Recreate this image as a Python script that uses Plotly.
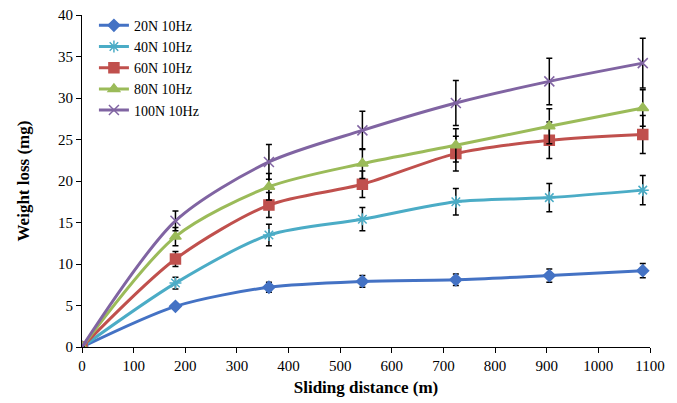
import plotly.graph_objects as go

distance = [0, 181, 362, 543, 724, 905, 1086]
series_names = ["20N 10Hz", "40N 10Hz", "60N 10Hz", "80N 10Hz", "100N 10Hz"]
loss_20N = [0, 4.9, 7.2, 7.9, 8.1, 8.6, 9.2]
loss_40N = [0, 7.7, 13.5, 15.4, 17.5, 18.0, 18.9]
loss_60N = [0, 10.6, 17.1, 19.6, 23.3, 24.9, 25.6]
loss_80N = [0, 13.3, 19.3, 22.1, 24.3, 26.6, 28.8]
loss_100N = [0, 15.2, 22.3, 26.1, 29.4, 32.0, 34.2]
err_20N = [0, 0.3, 0.6, 0.7, 0.7, 0.8, 0.85]
err_40N = [0, 0.7, 1.3, 1.4, 1.6, 1.7, 1.75]
err_60N = [0, 0.9, 1.5, 1.6, 2.1, 2.2, 2.3]
err_80N = [0, 1.1, 1.6, 1.8, 2.0, 2.1, 2.2]
err_100N = [0, 1.2, 2.1, 2.3, 2.7, 2.8, 3.0]
x_ticks = [0, 100, 200, 300, 400, 500, 600, 700, 800, 900, 1000, 1100]

values = [loss_20N, loss_40N, loss_60N, loss_80N, loss_100N]
errors = [err_20N, err_40N, err_60N, err_80N, err_100N]
colors = ["#4472C4", "#4BACC6", "#C0504D", "#9BBB59", "#8064A2"]
symbols = ["diamond", "asterisk-open", "square", "triangle-up", "x-thin-open"]
sizes = [9, 10, 10, 10, 10]

FONT = "Liberation Serif"
fig = go.Figure()
for name, v, e, c, s, sz in zip(series_names, values, errors, colors, symbols, sizes):
    fig.add_trace(go.Scatter(
        x=distance, y=v, name=name, mode="lines+markers",
        line=dict(color=c, width=3, shape="spline", smoothing=0.8),
        marker=dict(symbol=s, size=sz, color=c, line=dict(color=c, width=1.5)),
        error_y=dict(type="data", array=e, visible=True, color="black",
                     thickness=1.5, width=3),
    ))

# page body has an 8px margin, so the figure is sized/offset to compensate
fig.update_layout(
    width=669, height=395,
    margin=dict(l=74, r=27, t=7, b=56, autoexpand=False),
    paper_bgcolor="white", plot_bgcolor="white",
    font=dict(family=FONT, size=15, color="black"),
    showlegend=True,
    legend=dict(x=0.021, y=1.016, xanchor="left", yanchor="top",
                bgcolor="rgba(0,0,0,0)", font=dict(family=FONT, size=14),
                itemwidth=30, tracegroupgap=0),
    xaxis=dict(range=[0, 1100], tickvals=x_ticks, showgrid=False, zeroline=False,
               showline=True, linecolor="black", linewidth=1, automargin=False,
               ticks="outside", ticklen=5, tickcolor="black", ticklabeloverflow="allow",
               tickfont=dict(family=FONT, size=15),
               title=dict(text="<b>Sliding distance (m)</b>", font=dict(family=FONT, size=17),
                          standoff=8)),
    yaxis=dict(range=[0, 40], dtick=5, showgrid=False, zeroline=False,
               showline=True, linecolor="black", linewidth=1, automargin=False,
               ticks="outside", ticklen=5, tickcolor="black", ticklabeloverflow="allow",
               tickfont=dict(family=FONT, size=15),
               title=dict(text="<b>Weight loss (mg)</b>", font=dict(family=FONT, size=17),
                          standoff=24)),
)

fig.write_html("out.html")
